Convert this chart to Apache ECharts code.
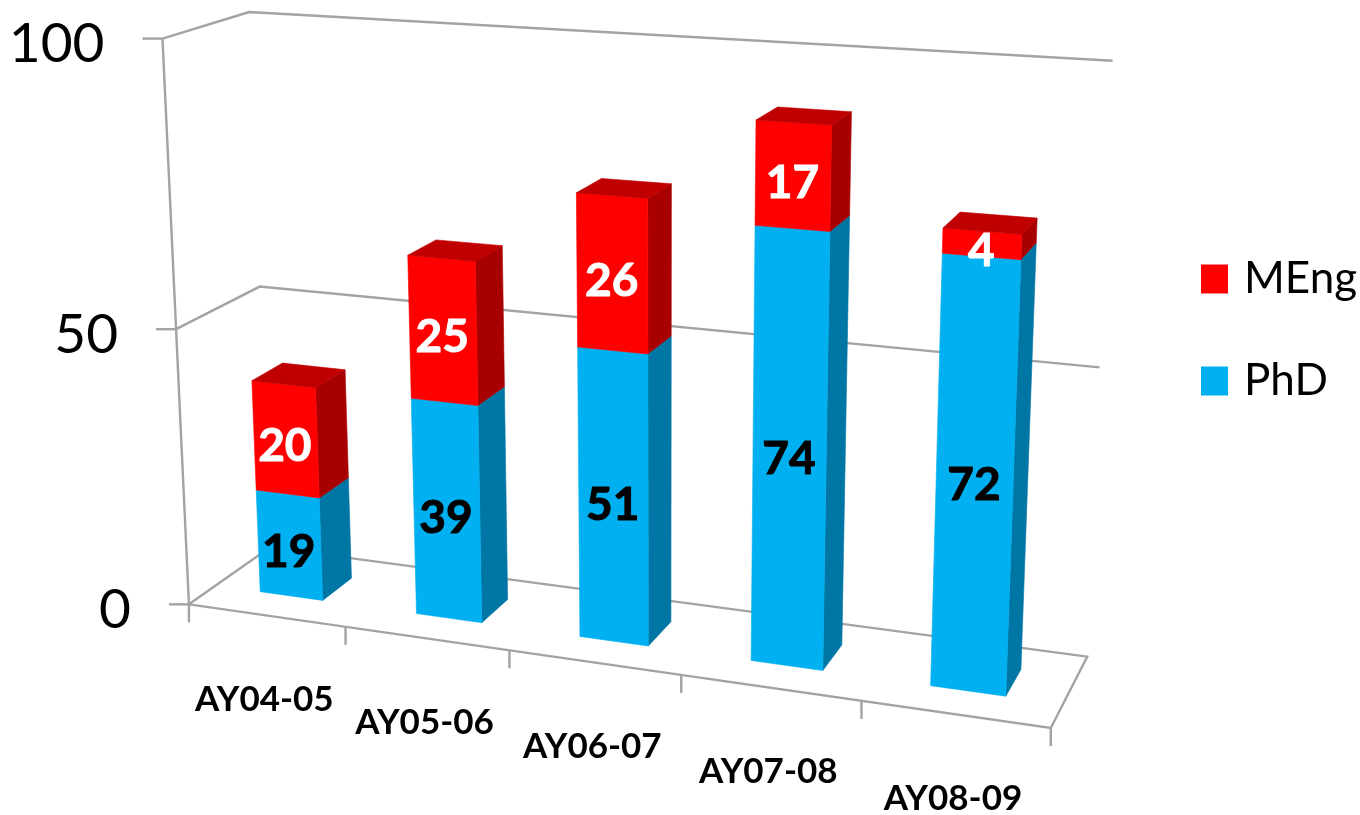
<!DOCTYPE html>
<html><head><meta charset="utf-8">
<style>html,body{margin:0;padding:0;background:#fff}#c{width:1360px;height:815px}</style>
<script src="https://cdn.jsdelivr.net/npm/echarts@6/dist/echarts.min.js"></script>
</head><body><div id="c"></div>
<script>
const categories = ['AY04-05','AY05-06','AY06-07','AY07-08','AY08-09'];
const phd = [19,39,51,74,72];
const meng = [20,25,26,17,4];
const valueTicks = [0,50,100];
const AXIS_MAX = 100;

// camera: least-squares fit of a 3D projective mapping to the frame of the picture
// (x along categories, y along values, z into the depth) -> page pixels
const calib = [
 [0,0,0,189,606],[1,0,0,1051,727],[0,1,0,162,38],[0,.5,0,180,328],
 [0,1,1,247,13],[1,1,1,1113,62],[1,.5,1,1100,367],[1,0,1,1087,657],
 [0,.5,1,260,285],[0,0,1,271,547],
 [.2,0,0,343,628],[.4,0,0,508,651],[.6,0,0,681,675],[.8,0,0,862,700]
];
function fit(){
  const n=11, A=[], b=[];
  calib.forEach(([x,y,z,u0,v0])=>{
    const u=u0/1000,v=v0/1000;
    A.push([x,y,z,1,0,0,0,0,-u*x,-u*y,-u*z]); b.push(u);
    A.push([0,0,0,0,x,y,z,1,-v*x,-v*y,-v*z]); b.push(v);
  });
  const M=[];
  for(let i=0;i<n;i++){M[i]=[];for(let j=0;j<=n;j++){let s=0;
    for(let r=0;r<A.length;r++)s+=A[r][i]*(j<n?A[r][j]:b[r]);M[i][j]=s;}}
  for(let i=0;i<n;i++){let p=i;for(let r=i+1;r<n;r++)if(Math.abs(M[r][i])>Math.abs(M[p][i]))p=r;
    [M[i],M[p]]=[M[p],M[i]];
    for(let r=0;r<n;r++){if(r===i)continue;const f=M[r][i]/M[i][i];for(let j=i;j<=n;j++)M[r][j]-=f*M[i][j];}}
  return M.map((row,i)=>row[n]/row[i]);
}
const P=fit();
function proj(x,y,z){
  const w=P[8]*x+P[9]*y+P[10]*z+1;
  return [1000*(P[0]*x+P[1]*y+P[2]*z+P[3])/w,1000*(P[4]*x+P[5]*y+P[6]*z+P[7])/w];
}
const GRID={left:100,top:10,width:1000,height:700};
const BAR_RATIO=0.405, Z0=0.32, Z1=0.70;
const toUnit=p=>[(p[0]-GRID.left)/GRID.width,(GRID.top+GRID.height-p[1])/GRID.height];
const LINE={stroke:'#A3A3A3',lineWidth:2.4,fill:null};
const poly=(pts,fill)=>({type:'polygon',shape:{points:pts},style:{fill,stroke:fill,lineWidth:0.6}});
const pline=(pts)=>({type:'polyline',shape:{points:pts},style:LINE});

function barRender(front,side,top,labelColor){
  return function(params,api){
    const i=api.value(0),lo=api.value(1),hi=api.value(2),isTop=api.value(3);
    const a=toUnit(api.coord([i,lo])),b=toUnit(api.coord([i,hi]));
    const bw=api.size([1,0])[0]/GRID.width*BAR_RATIO;
    const x0=a[0]-bw/2-0.001,x1=x0+bw,y0=a[1],y1=b[1];
    const ch=[
      poly([proj(x1,y0,Z0),proj(x1,y0,Z1),proj(x1,y1,Z1),proj(x1,y1,Z0)],side),
      poly([proj(x0,y0,Z0),proj(x1,y0,Z0),proj(x1,y1,Z0),proj(x0,y1,Z0)],front)
    ];
    if(isTop) ch.push(poly([proj(x0,y1,Z0),proj(x1,y1,Z0),proj(x1,y1,Z1),proj(x0,y1,Z1)],top));
    const c=proj(a[0],(y0+y1)/2,Z0);
    ch.push({type:'text',style:{text:String(Math.round(hi-lo)),x:c[0]-1.5,y:c[1]+7,fill:labelColor,
      stroke:labelColor,lineWidth:1,font:'bold 46px Lato',align:'center',verticalAlign:'middle'}});
    return {type:'group',children:ch};
  };
}
function wallRender(params,api){
  const v=api.value(0);
  const y=toUnit(api.coord([0,v]))[1];
  const ch=[];
  if(v===0){
    ch.push(pline([proj(0,0,1),proj(1,0,1),proj(1,0,0),proj(0,0,0),proj(0,0,1)]));
    ch.push(pline([proj(0,0,0),proj(0,1,0)]));
  } else {
    ch.push(pline([proj(0,y,0),proj(0,y,1),proj(1,y,1)]));
  }
  const p=proj(0,y,0);
  ch.push(pline([[p[0]-20,p[1]],p]));
  ch.push({type:'text',style:{text:String(v),x:p[0]-58,y:p[1]+6,fill:'#000',
    font:'55px Lato',align:'right',verticalAlign:'middle'}});
  return {type:'group',children:ch};
}
function catRender(params,api){
  const i=api.value(0);
  const u=toUnit(api.coord([i,0]));
  const half=api.size([1,0])[0]/GRID.width/2;
  const t=proj(u[0]+half,0,0), c=proj(u[0],0,0), ch=[];
  ch.push(pline([t,[t[0],t[1]+18]]));
  if(i===0){const t0=proj(0,0,0);ch.push(pline([t0,[t0[0],t0[1]+18]]));}
  ch.push({type:'text',style:{text:categories[i],x:c[0]-2,y:c[1]+84,fill:'#000',
    font:'bold 35px Lato',align:'center',verticalAlign:'middle'}});
  return {type:'group',children:ch};
}
const chart=echarts.init(document.getElementById('c'),null,{renderer:'canvas'});
const enc={x:0,y:2};
chart.setOption({
  animation:false,
  backgroundColor:'#fff',
  grid:GRID,
  xAxis:{type:'category',data:categories,show:false},
  yAxis:{type:'value',min:0,max:AXIS_MAX,show:false},
  legend:{orient:'vertical',left:1196,top:252,itemWidth:27,itemHeight:29,itemGap:58,
    icon:'rect',data:['MEng','PhD'],selectedMode:false,
    textStyle:{fontFamily:'Lato',fontSize:44,color:'#000',lineHeight:29,padding:[0,0,0,11]}},
  tooltip:{show:false},
  series:[
    {name:'frame',type:'custom',silent:true,renderItem:wallRender,data:valueTicks.map(v=>[v]),encode:{y:0},clip:false},
    {name:'categories',type:'custom',silent:true,renderItem:catRender,data:categories.map((c,i)=>[i]),encode:{x:0},clip:false},
    {name:'PhD',type:'custom',renderItem:barRender('#00B0F0','#0076A4','#0076A4','#000'),itemStyle:{color:'#00B0F0'},clip:false,
      data:phd.map((v,i)=>[i,0,v,meng[i]?0:1]),encode:enc},
    {name:'MEng',type:'custom',renderItem:barRender('#FF0000','#A80000','#C00000','#fff'),itemStyle:{color:'#FF0000'},clip:false,
      data:meng.map((v,i)=>[i,phd[i],phd[i]+v,1]),encode:enc}
  ]
});
</script></body></html>
